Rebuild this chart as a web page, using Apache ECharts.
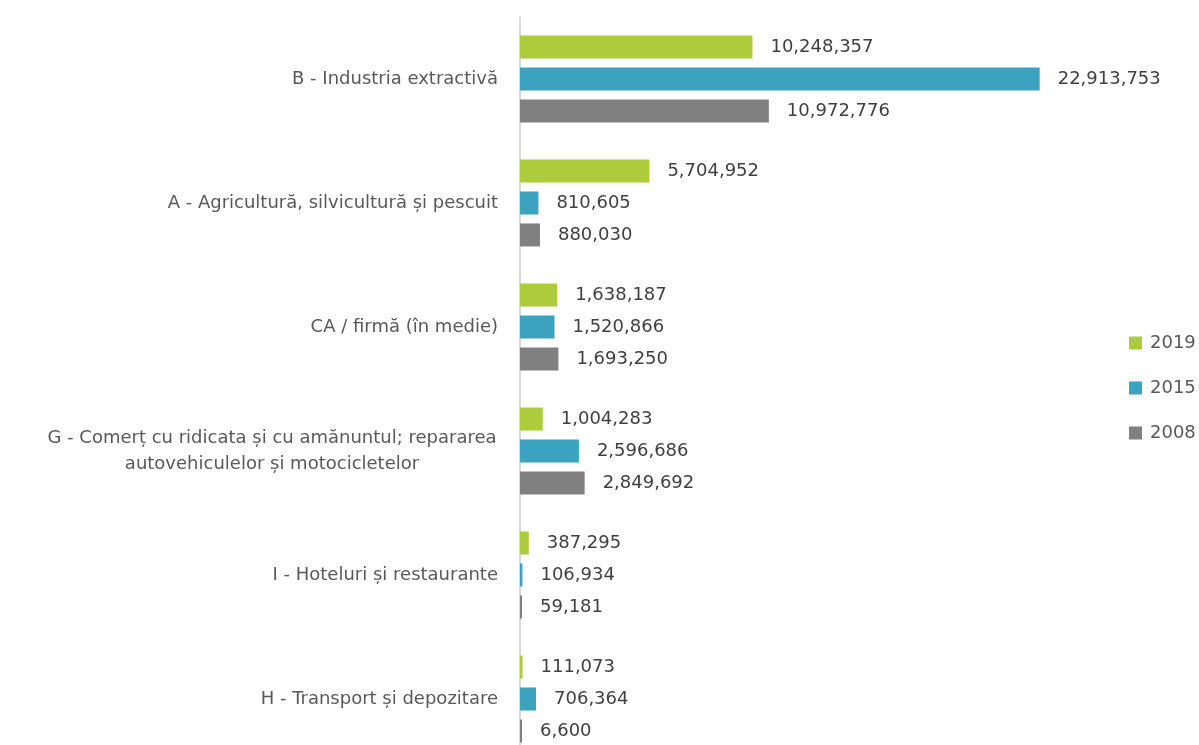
<!DOCTYPE html>
<html>
<head>
<meta charset="utf-8">
<script src="https://cdn.jsdelivr.net/npm/echarts@6/dist/echarts.min.js"></script>
<style>
  html, body { margin: 0; padding: 0; background: #fff; overflow: hidden; }
  #chart { width: 1199px; height: 770px; }
</style>
</head>
<body>
<div id="chart"></div>
<script>
// categorii (de sus in jos)
const categories = [
  'B - Industria extractivă',
  'A - Agricultură, silvicultură și pescuit',
  'CA / firmă (în medie)',
  'G - Comerț cu ridicata și cu amănuntul; repararea\nautovehiculelor și motocicletelor',
  'I - Hoteluri și restaurante',
  'H - Transport și depozitare'
]
const years = ['2019', '2015', '2008']
const values2019 = [10248357, 5704952, 1638187, 1004283, 387295, 111073]
const values2015 = [22913753, 810605, 1520866, 2596686, 106934, 706364]
const values2008 = [10972776, 880030, 1693250, 2849692, 59181, 6600]
const colors = ['#abcc3b', '#3ba2bf', '#808080']

const chart = echarts.init(document.getElementById('chart'))

const fmt = v => v.toLocaleString('en-US')

function makeSeries(name, data, color) {
  return {
    name: name,
    type: 'bar',
    data: data,
    barWidth: 23,
    barGap: '39%',
    barMinHeight: 2,
    itemStyle: { color: color },
    label: {
      show: true,
      position: 'right',
      distance: 18,
      color: '#404040',
      fontFamily: 'DejaVu Sans',
      fontSize: 18,
      formatter: p => fmt(p.value)
    }
  }
}

chart.setOption({
  animation: false,
  legend: {
    orient: 'vertical',
    left: 1124,
    top: 329,
    itemWidth: 13,
    itemHeight: 13,
    itemGap: 27,
    icon: 'rect',
    data: years,
    textStyle: { color: '#595959', fontFamily: 'DejaVu Sans', fontSize: 18, padding: [0, 0, 0, 3] }
  },
  grid: { left: 520, right: 112, top: 17, height: 744, containLabel: false },
  xAxis: {
    type: 'value',
    min: 0,
    max: 25000000,
    show: false,
    splitLine: { show: false }
  },
  yAxis: {
    type: 'category',
    inverse: true,
    data: categories,
    axisLine: { lineStyle: { color: '#d9d9d9', width: 2 } },
    axisTick: { show: false },
    axisLabel: {
      margin: 22,
      color: '#595959',
      fontFamily: 'DejaVu Sans',
      fontSize: 18,
      lineHeight: 26,
      formatter: v => {
        if (v.indexOf('\n') < 0) return v
        return v.split('\n').map(s => '{c|' + s + '}').join('\n')
      },
      rich: {
        c: { width: 452, align: 'center', color: '#595959', fontFamily: 'DejaVu Sans', fontSize: 18, lineHeight: 26 }
      }
    }
  },
  series: [
    makeSeries(years[0], values2019, colors[0]),
    makeSeries(years[1], values2015, colors[1]),
    makeSeries(years[2], values2008, colors[2])
  ]
})
</script>
</body>
</html>
